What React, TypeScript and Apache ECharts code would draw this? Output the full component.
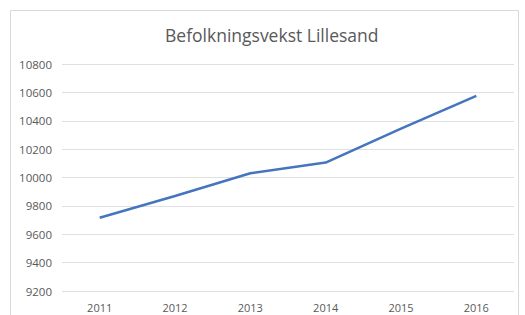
import React, { useEffect, useRef } from "react";
import * as echarts from "echarts";

const title = "Befolkningsvekst Lillesand";
const years = ["2011", "2012", "2013", "2014", "2015", "2016"];
const population = [9716, 9870, 10030, 10105, 10345, 10575];
const yMin = 9200;
const yMax = 10800;
const yStep = 200;

export default function App() {
  const ref = useRef<HTMLDivElement>(null);
  useEffect(() => {
    if (!ref.current) return;
    const chart = echarts.init(ref.current, undefined, { renderer: "svg" });
    chart.setOption({
      animation: false,
      backgroundColor: "#ffffff",
      title: {
        text: title,
        left: 160,
        top: 21,
        textStyle: {
          fontFamily: "Open Sans",
          fontSize: 17.5,
          fontWeight: "normal",
          color: "#595959",
        },
      },
      graphic: [
        {
          type: "rect",
          shape: { x: 10.5, y: 10.5, width: 508, height: 320 },
          style: { fill: "none", stroke: "#d9d9d9", lineWidth: 1 },
          silent: true,
        },
      ],
      grid: { left: 62, right: 11, top: 64, bottom: 24 },
      xAxis: {
        type: "category",
        data: years,
        boundaryGap: true,
        axisLine: { show: false },
        axisTick: { show: false },
        axisLabel: {
          color: "#595959",
          fontFamily: "Open Sans",
          fontSize: 11,
          margin: 11,
        },
      },
      yAxis: {
        type: "value",
        min: yMin,
        max: yMax,
        interval: yStep,
        axisLine: { show: false },
        axisTick: { show: false },
        splitLine: { lineStyle: { color: "#e0e0e0", width: 1 } },
        axisLabel: {
          color: "#595959",
          fontFamily: "Open Sans",
          fontSize: 11.5,
          margin: 10,
          formatter: (v: number) => String(v),
        },
      },
      series: [
        {
          type: "line",
          data: population,
          symbol: "none",
          lineStyle: { color: "#4675bf", width: 2.5 },
        },
      ],
    });
    return () => chart.dispose();
  }, []);
  return (
    <div
      ref={ref}
      style={{ position: "absolute", left: 0, top: 0, width: 525, height: 315 }}
    />
  );
}
